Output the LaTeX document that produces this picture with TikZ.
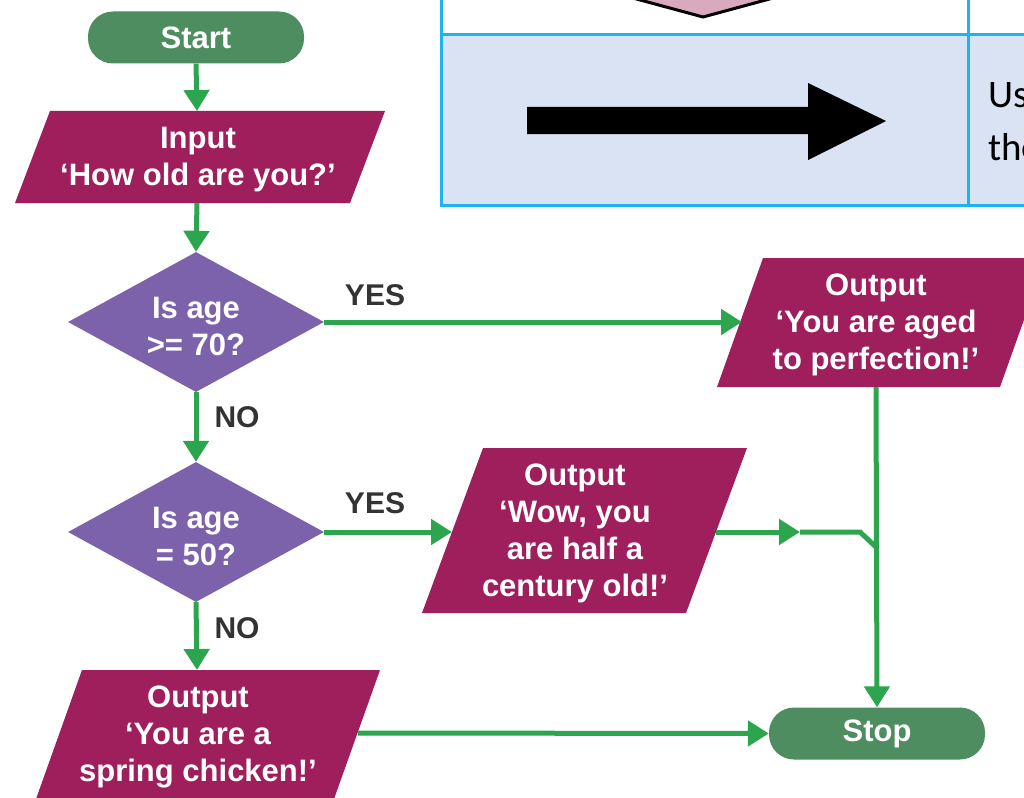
\documentclass[tikz,border=0pt]{standalone}
\usepackage{fontspec}
\setmainfont{Liberation Sans}
\newfontfamily\calib{Carlito}
\usetikzlibrary{arrows.meta,shapes.geometric}
\definecolor{termgreen}{HTML}{4E8D5F}
\definecolor{flowgreen}{HTML}{2DA44E}
\definecolor{iomag}{HTML}{9E1F5C}
\definecolor{decpurple}{HTML}{7B62AA}
\definecolor{labgray}{HTML}{333333}
\definecolor{tblue}{HTML}{1EB2EE}
\definecolor{tfill}{HTML}{DAE3F3}
\definecolor{tpink}{HTML}{D9A9BE}
\begin{document}
\begin{tikzpicture}[x=1pt,y=-1pt,
  txt/.style={text=white,font=\fontsize{31}{37}\selectfont\bfseries,align=center,inner sep=0,yshift=-3pt},
  term/.style={fill=termgreen,rounded corners=25pt,minimum width=216pt,minimum height=52pt,inner sep=0,text=white,font=\fontsize{31}{37}\selectfont\bfseries},
  dec/.style={diamond,fill=decpurple,minimum width=256pt,minimum height=140pt,inner sep=0,aspect=1.83},
  io/.style={fill=iomag},
  flow/.style={draw=flowgreen,line width=5pt,-{Triangle[width=25pt,length=21pt]}},
  link/.style={draw=flowgreen,line width=5pt},
  lab/.style={text=labgray,font=\fontsize{30}{37}\selectfont\bfseries,inner sep=0},
  tline/.style={draw=tblue,line width=3pt},
  ttxt/.style={anchor=base west,inner sep=0,font=\calib\fontsize{39}{52}\selectfont}
]
\useasboundingbox (0,0) rectangle (1024,797);
\clip (0,0) rectangle (1024,797);

% ---- table fragment (top right) ----
\fill[tfill] (441,35) rectangle (1030,205);
\filldraw[fill=tpink,draw=black,line width=3pt] (618,-6) -- (703,17) -- (788,-6);
\draw[tline] (441,-5) -- (441,205) -- (1030,205);
\draw[tline] (441,35) -- (1030,35);
\draw[tline] (968,-5) -- (968,205);
\fill[black] (527,107) -- (808,107) -- (808,83) -- (886,121) -- (808,160) -- (808,134) -- (527,134) -- cycle;
\node[ttxt] (us) at (988,108) {Us};
\node[ttxt] (the) at (988,160) {the};

% ---- flowchart shapes ----
\node[term] (start) at (196,37.5) {Start};

\fill[io] (50,111) -- (385,111) -- (350,203) -- (15,203) -- cycle;
\node[txt] (input) at (198,157) {Input\\‘How old are you?’};
\coordinate (inT) at (197,111);
\coordinate (inB) at (197,203);

\node[dec] (d1) at (196,322) {};
\node[txt] (d1t) at (196,323) {Is age\\>= 70?};
\node[dec] (d2) at (196,532) {};
\node[txt] (d2t) at (196,533) {Is age\\= 50?};

\fill[io] (763,258) -- (1046,258) -- (1000,387) -- (717,387) -- cycle;
\node[txt] (o1t) at (876,322) {Output\\‘You are aged\\to perfection!’};
\coordinate (o1L) at (742,322);
\coordinate (o1B) at (876,387);

\fill[io] (483,448) -- (747,448) -- (686,613) -- (422,613) -- cycle;
\node[txt] (o2t) at (575,530) {Output\\‘Wow, you\\are half a\\century old!’};
\coordinate (o2L) at (452,532);
\coordinate (o2R) at (716,532);

\fill[io] (82,670) -- (380,670) -- (334,799) -- (36,799) -- cycle;
\node[txt] (o3t) at (198,734) {Output\\‘You are a\\spring chicken!’};
\coordinate (o3T) at (197,670);
\coordinate (o3R) at (358,733);

\node[term] (stop) at (877,733.5) {Stop};

\coordinate (j1) at (800,532);
\coordinate (j2) at (860,532);
\coordinate (j3) at (876,547);

% ---- labels ----
\node[lab] (yes1) at (375,295) {YES};
\node[lab] (no1) at (237,417) {NO};
\node[lab] (yes2) at (375,503) {YES};
\node[lab] (no2) at (237,628) {NO};

% ---- connectors ----
\draw[flow] (start.south) -- (inT);
\draw[flow] (inB) -- (d1.north);
\draw[flow] (d1.east) -- (o1L);
\draw[flow] (d1.south) -- (d2.north);
\draw[flow] (d2.east) -- (o2L);
\draw[flow] (d2.south) -- (o3T);
\draw[flow] (o2R) -- (j1);
\draw[link] (j1) -- (j2) -- (j3);
\draw[flow] (o1B) -- (stop.north);
\draw[flow] (o3R) -- (stop.west);
\end{tikzpicture}
\end{document}
